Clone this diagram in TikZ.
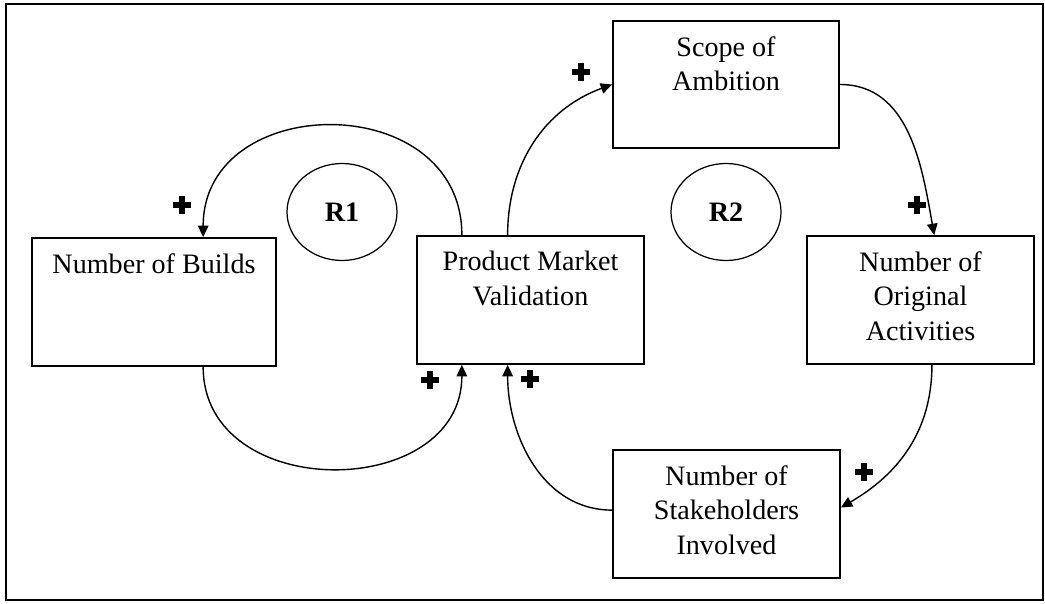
\documentclass[tikz,border=0pt]{standalone}
\usepackage{fontspec}
\setmainfont{Liberation Serif}
\usetikzlibrary{arrows.meta,calc,shapes.geometric}

\begin{document}
\begin{tikzpicture}[
  box/.style={draw,line width=1pt,minimum width=4.54cm,minimum height=2.56cm,inner sep=0pt},
  txt/.style={anchor=north,align=center,inner sep=0pt,yshift=-9pt,font=\fontsize{16}{19.8}\selectfont},
  loopname/.style={draw,ellipse,line width=0.7pt,minimum width=2.2cm,minimum height=1.94cm,font=\fontsize{16}{19.8}\selectfont\bfseries},
  link/.style={line width=0.8pt,-{Triangle[length=6.5pt,width=6pt]}},
  sign/.style={inner sep=0pt,minimum size=0.36cm,path picture={
    \draw[line width=3.8pt] (path picture bounding box.north) -- (path picture bounding box.south);
    \draw[line width=3.8pt] (path picture bounding box.west) -- (path picture bounding box.east);}}]
\useasboundingbox (0,0) rectangle (20.9,12.06);
\draw[line width=1.3pt] (0.12,0.06) rectangle (20.86,11.98);

% variables
\node[box,minimum width=4.88cm] (builds) at (3.08,6.02) {};
\node[txt] (buildstxt) at (builds.north) {Number of Builds};
\node[box] (pmv) at (10.61,6.06) {};
\node[txt] (pmvtxt) at (pmv.north) {Product Market\\Validation};
\node[box,minimum width=4.52cm,minimum height=2.54cm] (scope) at (14.52,10.37) {};
\node[txt] (scopetxt) at (scope.north) {Scope of\\Ambition};
\node[box] (orig) at (18.41,6.06) {};
\node[txt] (origtxt) at (orig.north) {Number of\\Original\\Activities};
\node[box] (stake) at (14.53,1.78) {};
\node[txt] (staketxt) at (stake.north) {Number of\\Stakeholders\\Involved};

% loops
\node[loopname] (r1) at (6.84,7.82) {R1};
\node[loopname] (r2) at (14.52,7.82) {R2};

% links
\draw[link] ($(pmv.north west)!0.2!(pmv.north east)$) to[out=90,in=90,looseness=1.45] ($(builds.north west)!0.7!(builds.north east)$);
\draw[link] ($(builds.south west)!0.7!(builds.south east)$) to[out=-90,in=-90,looseness=1.35] ($(pmv.south west)!0.2!(pmv.south east)$);
\draw[link] ($(pmv.north west)!0.4!(pmv.north east)$) to[out=90,in=200] (scope.west);
\draw[link] (scope.east) to[out=0,in=100] ($(orig.north west)!0.56!(orig.north east)$);
\draw[link] ($(orig.south west)!0.55!(orig.south east)$) to[out=-90,in=30] ($(stake.north east)!0.45!(stake.south east)$);
\draw[link] ($(stake.north west)!0.47!(stake.south west)$) to[out=180,in=-90] ($(pmv.south west)!0.4!(pmv.south east)$);

% polarities
\node[sign] (s1) at (3.64,7.96) {};
\node[sign] (s2) at (8.6,4.46) {};
\node[sign] (s3) at (10.6,4.48) {};
\node[sign] (s4) at (11.62,10.62) {};
\node[sign] (s5) at (18.34,7.96) {};
\node[sign] (s6) at (17.28,2.62) {};
\end{tikzpicture}
\end{document}
